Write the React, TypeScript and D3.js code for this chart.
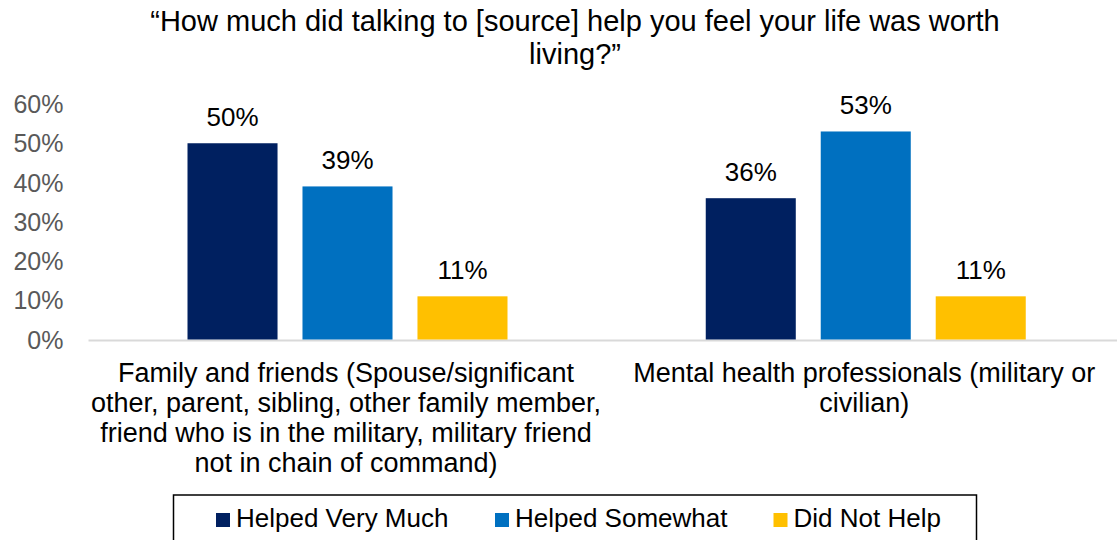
import React from "react";
import * as d3 from "d3";

const categories = [
  ["Family and friends (Spouse/significant", "other, parent, sibling, other family member,", "friend who is in the military, military friend", "not in chain of command)"],
  ["Mental health professionals (military or", "civilian)"],
];
const categoryKeys = ["Family and friends", "Mental health professionals"];
const seriesNames = ["Helped Very Much", "Helped Somewhat", "Did Not Help"];
const seriesColors = ["#002060", "#0070C0", "#FFC000"];
const helpedVeryMuch = [50, 36];
const helpedSomewhat = [39, 53];
const didNotHelp = [11, 11];
const yTicks = [0, 10, 20, 30, 40, 50, 60];
const titleLines = ["\u201CHow much did talking to [source] help you feel your life was worth", "living?\u201D"];

const W = 1117;
const H = 540;
const FONT = "Arial, 'Liberation Sans', sans-serif";

export default function App() {
  const series = [helpedVeryMuch, helpedSomewhat, didNotHelp];
  const y = d3.scaleLinear().domain([0, 60]).range([339.5, 104]);
  const x0 = d3.scaleBand<string>().domain(categoryKeys).range([88.5, 1125]).padding(0);
  const x1 = d3.scaleBand<string>().domain(seriesNames).range([99, 419]).paddingInner(0.217).paddingOuter(0);

  const legendX = [216, 495, 773.5];

  return (
    <svg width={W} height={H} style={{ position: "absolute", left: 0, top: 0 }} fontFamily={FONT}>
      <rect x={0} y={0} width={W} height={H} fill="#fff" />
      {titleLines.map((t, i) => (
        <text key={i} x={575} y={31 + i * 33} textAnchor="middle" fontSize={29} fill="#000">{t}</text>
      ))}
      {yTicks.map((t) => (
        <text key={t} x={63.5} y={y(t) + 9} textAnchor="end" fontSize={25} fill="#595959">{t}%</text>
      ))}
      <line x1={88.5} x2={W} y1={340.5} y2={340.5} stroke="#D9D9D9" strokeWidth={2} />
      {categoryKeys.map((c, ci) => (
        <g key={c} transform={`translate(${x0(c)},0)`}>
          {seriesNames.map((s, si) => {
            const v = series[si][ci];
            const bx = x1(s)!;
            return (
              <g key={s}>
                <rect x={bx} y={y(v)} width={x1.bandwidth()} height={y(0) - y(v)} fill={seriesColors[si]} />
                <text x={bx + x1.bandwidth() / 2} y={y(v) - 17} textAnchor="middle" fontSize={26} fill="#000">{v}%</text>
              </g>
            );
          })}
          {categories[ci].map((line, li) => (
            <text key={li} x={x1.range()[0] + (x1.range()[1] - x1.range()[0]) / 2 - 1.5} y={382 + li * 30} textAnchor="middle" fontSize={27} fill="#000">{line}</text>
          ))}
        </g>
      ))}
      <rect x={173.5} y={495} width={803} height={60} fill="none" stroke="#000" strokeWidth={1.5} />
      {seriesNames.map((s, i) => (
        <g key={s}>
          <rect x={legendX[i]} y={513} width={14} height={14} fill={seriesColors[i]} />
          <text x={legendX[i] + 20} y={527} fontSize={26} fill="#000">{s}</text>
        </g>
      ))}
    </svg>
  );
}
